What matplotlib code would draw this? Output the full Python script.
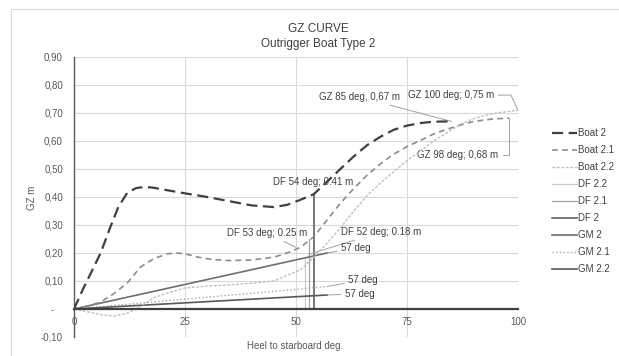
import matplotlib
matplotlib.use("Agg")
import matplotlib.pyplot as plt
from matplotlib.lines import Line2D

plt.rcParams['font.family'] = ['Liberation Sans', 'DejaVu Sans']

# ---------------- data ----------------
heel_b2 = [0, 2, 4, 6, 8, 10, 12, 14, 16, 18, 20, 25, 30, 35, 40, 45, 48, 51, 54,
           57, 60, 63, 66, 69, 72, 75, 78, 81, 85]
gz_b2 = [0, 0.07, 0.135, 0.20, 0.285, 0.365, 0.415, 0.432, 0.436, 0.433, 0.427,
         0.413, 0.40, 0.385, 0.37, 0.364, 0.372, 0.39, 0.41,
         0.455, 0.50, 0.545, 0.585, 0.615, 0.64, 0.655, 0.664, 0.669, 0.67]

heel_b21 = [0, 3, 6, 9, 12, 15, 18, 21, 23, 25, 28, 31, 35, 40, 45, 48, 51, 54,
            57, 60, 63, 66, 69, 72, 75, 78, 81, 84, 87, 90, 94, 98]
gz_b21 = [0, 0.01, 0.025, 0.055, 0.093, 0.15, 0.18, 0.197, 0.20, 0.197, 0.185,
          0.177, 0.173, 0.175, 0.185, 0.20, 0.22, 0.258,
          0.318, 0.378, 0.43, 0.478, 0.518, 0.553, 0.58, 0.602, 0.625, 0.642,
          0.657, 0.67, 0.678, 0.682]

heel_b22 = [0, 3, 6, 9, 12, 15, 18, 21, 25, 30, 35, 40, 45, 48, 51, 54,
            57, 60, 63, 66, 69, 72, 75, 78, 81, 84, 87, 90, 94, 100]
gz_b22 = [0, -0.01, -0.02, -0.025, -0.015, 0.01, 0.04, 0.057, 0.075, 0.082, 0.086,
          0.092, 0.10, 0.12, 0.14, 0.185,
          0.235, 0.29, 0.35, 0.405, 0.45, 0.49, 0.53, 0.565, 0.60, 0.63, 0.66,
          0.68, 0.697, 0.71]

df_names = ['DF 2.2', 'DF 2.1', 'DF 2']
df_heel = [52, 53, 54]
df_gz = [0.18, 0.25, 0.41]

gm_names = ['GM 2', 'GM 2.1', 'GM 2.2']
gm_heel = 57
gm_values = [0.20, 0.08, 0.05]

y_ticks = [-0.10, 0.0, 0.10, 0.20, 0.30, 0.40, 0.50, 0.60, 0.70, 0.80, 0.90]
y_labels = ['-0,10', '-   ', '0,10', '0,20', '0,30', '0,40', '0,50', '0,60',
            '0,70', '0,80', '0,90']
x_ticks = [0, 25, 50, 75, 100]

# ---------------- figure ----------------
W, H = 619, 356
fig = plt.figure(figsize=(W / 100, H / 100), dpi=100)
fig.patch.set_facecolor('white')

def fx(px):
    return px / W

def fy(py):
    return 1 - py / H

# outer chart border
fig.add_artist(Line2D([fx(11), 1], [fy(9), fy(9)], color='#d9d9d9', lw=0.8))
fig.add_artist(Line2D([fx(11), fx(11)], [fy(9), 0], color='#d9d9d9', lw=0.8))

ax = fig.add_axes([fx(74), fy(337), fx(518) - fx(74), fy(57) - fy(337)])
ax.set_xlim(0, 100)
ax.set_ylim(-0.10, 0.90)

# grid
for y in y_ticks:
    ax.axhline(y, color='#d9d9d9', lw=0.8, zorder=0)
for x in x_ticks[1:]:
    ax.axvline(x, color='#d9d9d9', lw=0.8, zorder=0)

for s in ['top', 'right']:
    ax.spines[s].set_visible(False)
ax.spines['left'].set_color('#595959')
ax.spines['left'].set_linewidth(1.0)
ax.spines['bottom'].set_position(('data', 0))
ax.spines['bottom'].set_color('#404040')
ax.spines['bottom'].set_linewidth(1.6)
ax.spines['bottom'].set_zorder(5)

ax.set_xticks(x_ticks)
ax.set_xticklabels([str(v) for v in x_ticks])
ax.set_yticks(y_ticks)
ax.set_yticklabels(y_labels)
ax.tick_params(axis='x', length=0, pad=6, labelsize=7, colors='#595959')
ax.tick_params(axis='y', length=0, pad=8, labelsize=7, colors='#595959')

# series
ax.plot(heel_b2, gz_b2, color='#404040', lw=1.6, dashes=(5, 2.5), label='Boat 2', zorder=4)
ax.plot(heel_b21, gz_b21, color='#8c8c8c', lw=1.2, dashes=(3.5, 2.5), label='Boat 2.1', zorder=4)
ax.plot(heel_b22, gz_b22, color='#bfbfbf', lw=1.0, dashes=(2, 1.2), label='Boat 2.2', zorder=4)

df_colors = ['#c8c8c8', '#a6a6a6', '#505050']
df_lw = [0.9, 0.9, 1.1]
for n, h, g, c, w in zip(df_names, df_heel, df_gz, df_colors, df_lw):
    ax.plot([h, h], [0, g], color=c, lw=w, label=n, zorder=3)

gm_colors = ['#6e6e6e', '#a6a6a6', '#595959']
gm_styles = ['-', ':', '-']
gm_lw = [1.2, 1.0, 1.2]
for n, v, c, ls, w in zip(gm_names, gm_values, gm_colors, gm_styles, gm_lw):
    ax.plot([0, gm_heel], [0, v], color=c, lw=w, ls=ls, label=n, zorder=3)

# callouts
tc = '#404040'
lc = '#a0a0a0'
fs = 7

def callout(text, xy, xytext, conn='arc3'):
    ax.annotate(text, xy=xy, xytext=xytext, ha='center', va='center',
                fontsize=fs, color=tc,
                arrowprops=dict(arrowstyle='-', color=lc, lw=0.7,
                                connectionstyle=conn, shrinkA=1, shrinkB=0))

ax.text(df_heel[2] - 0.2, 0.454, f'DF {df_heel[2]} deg; {df_gz[2]:.2f} m',
        ha='center', va='center', fontsize=fs, color=tc)
callout(f'DF {df_heel[1]} deg; {df_gz[1]:.2f} m', (50, 0.22), (43.5, 0.271))
callout(f'DF {df_heel[0]} deg; {df_gz[0]:.2f} m', (df_heel[0] + 0.8, 0.195), (69.2, 0.275))
callout(f'{gm_heel} deg', (gm_heel, gm_values[0]), (63.5, 0.218))
callout(f'{gm_heel} deg', (gm_heel, gm_values[1]), (65.1, 0.104))
callout(f'{gm_heel} deg', (gm_heel, gm_values[2]), (64.4, 0.054))
callout(f'GZ {heel_b2[-1]} deg, {gz_b2[-1]:.2f} m'.replace('.', ','), (heel_b2[-1], gz_b2[-1]), (64.2, 0.757))
callout('GZ 100 deg; 0,75 m', (heel_b22[-1], gz_b22[-1]), (84.9, 0.764),
        conn='angle,angleA=0,angleB=115,rad=0')
callout(f'GZ {heel_b21[-1]} deg; {gz_b21[-1]:.2f} m'.replace('.', ','), (heel_b21[-1], gz_b21[-1]), (86.5, 0.55),
        conn='angle,angleA=0,angleB=90,rad=0')

# titles / labels
fig.text(fx(318), fy(29), 'GZ CURVE', ha='center', va='center', fontsize=8.5, color='#404040')
fig.text(fx(318), fy(44), 'Outrigger Boat Type 2', ha='center', va='center', fontsize=8.5, color='#404040')
fig.text(fx(32), fy(198), 'GZ m', ha='center', va='center', rotation=90, fontsize=7, color='#595959')
fig.text(fx(295), fy(346), 'Heel to starboard deg.', ha='center', va='center', fontsize=7, color='#595959')

# legend
handles, labels = ax.get_legend_handles_labels()
leg = fig.legend(handles, labels, loc='upper left', bbox_to_anchor=(fx(552), fy(128)),
                 frameon=False, fontsize=7, handlelength=2.6, handletextpad=0.1,
                 labelspacing=0.72, borderpad=0, borderaxespad=0)
for t in leg.get_texts():
    t.set_color('#404040')

fig.savefig('out.png', dpi=100, facecolor='white')
